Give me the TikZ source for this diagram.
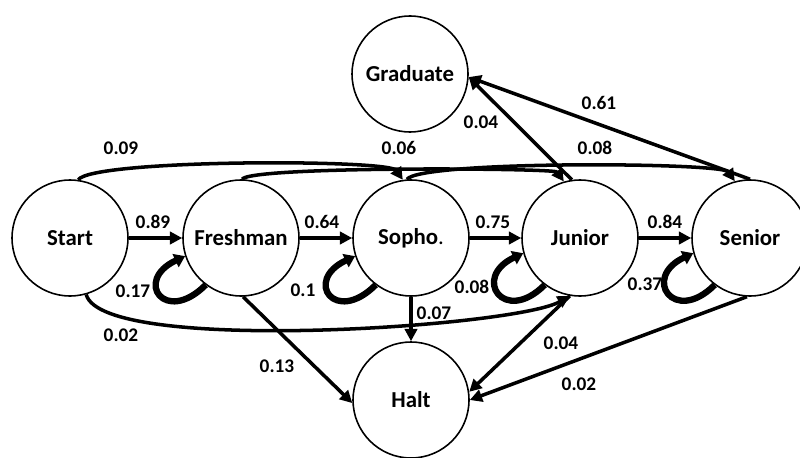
\documentclass[tikz,border=0pt]{standalone}
\usepackage{fontspec}
\setmainfont{Carlito}
\usetikzlibrary{arrows.meta}

\tikzset{
  stnode/.style={circle, draw, line width=0.9pt, minimum size=2.32cm, inner sep=0pt,
    font=\fontsize{13}{15}\selectfont\bfseries},
  prob/.style={font=\fontsize{11}{13}\selectfont\bfseries, inner sep=0pt},
  trans/.style={line width=2pt, -{Triangle[length=7pt,width=7pt]}},
  selfloop/.style={line width=3.6pt, -{Triangle[length=6pt,width=8pt]}},
}

\begin{document}
\begin{tikzpicture}[x=0.02cm, y=0.02cm]
                \useasboundingbox[fill=white] (0,0) rectangle (800,457);
                % states
                \node[stnode] (start) at (70,219) {Start};
                \node[stnode] (fresh) at (241,219) {Freshman};
                \node[stnode] (sopho) at (411,219) {Sopho\textmd{.}};
                \node[stnode] (junior) at (580,219) {Junior};
                \node[stnode] (senior) at (750,219) {Senior};
                \node[stnode] (grad) at (410,383) {Graduate};
                \node[stnode] (halt) at (411,57) {Halt};
                % one year on
                \draw[trans] (start) -- (fresh);
                \draw[trans] (fresh) -- (sopho);
                \draw[trans] (sopho) -- (junior);
                \draw[trans] (junior) -- (senior);
                % repeat a year
                \draw[selfloop] (fresh.-127) to[out=225, in=205, distance=1.15cm] (fresh.-162);
                \draw[selfloop] (sopho.-127) to[out=225, in=205, distance=1.15cm] (sopho.-162);
                \draw[selfloop] (junior.-127) to[out=225, in=205, distance=1.15cm] (junior.-165);
                \draw[selfloop] (senior.-127) to[out=225, in=205, distance=1.15cm] (senior.-165);
                % skip a year
                \draw[trans] (start.82) to[out=55, in=125, looseness=0.2] (sopho.98);
                \draw[trans] (fresh.89) to[out=55, in=125, looseness=0.13] (junior.106);
                \draw[trans] (sopho.94) to[out=55, in=125, looseness=0.18] (senior.105);
                \draw[trans] (start.-74) to[out=-75, in=210, looseness=0.33] (junior.-100);
                % graduate and halt
                \draw[trans] (junior.98) -- (grad.-3);
                \draw[trans] (senior.90) -- (grad.-3);
                \draw[trans] (fresh.-88) -- (halt.183);
                \draw[trans] (sopho) -- (halt);
                \draw[trans] (junior.-100) -- (halt.8);
                \draw[trans] (senior.-93) -- (halt.0);
                % probabilities
                \node[prob] (p89) at (153,235) {0.89};
                \node[prob] (p64) at (322,235) {0.64};
                \node[prob] (p75) at (493,235) {0.75};
                \node[prob] (p84) at (665,235) {0.84};
                \node[prob] (p17) at (133,166) {0.17};
                \node[prob] (p10) at (303,167) {0.1};
                \node[prob] (p08a) at (472,170) {0.08};
                \node[prob] (p37) at (645,173) {0.37};
                \node[prob] (p09) at (121,309) {0.09};
                \node[prob] (p06) at (399,309) {0.06};
                \node[prob] (p08b) at (595,309) {0.08};
                \node[prob] (p61) at (599,354) {0.61};
                \node[prob] (p04a) at (481,335) {0.04};
                \node[prob] (p02a) at (121,122) {0.02};
                \node[prob] (p13) at (277,91) {0.13};
                \node[prob] (p07) at (434,144) {0.07};
                \node[prob] (p04b) at (561,114) {0.04};
                \node[prob] (p02b) at (579,73) {0.02};
            \end{tikzpicture}
\end{document}
